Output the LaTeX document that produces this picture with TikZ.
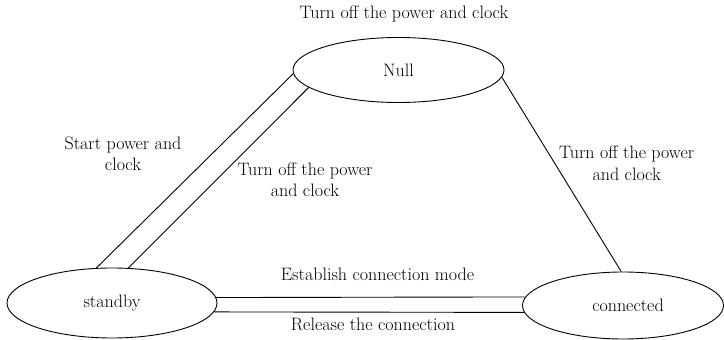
\documentclass[tikz,border=0pt]{standalone}
\usetikzlibrary{shapes.geometric}
\begin{document}
\begin{tikzpicture}[x=1pt,y=1pt,
  state/.style={ellipse, draw, line width=0.9pt, inner sep=0pt,
    font=\fontsize{18}{21.5}\selectfont},
  lbl/.style={align=center, inner sep=0pt,
    font=\fontsize{18}{21.5}\selectfont},
  link/.style={line width=0.9pt}]
\useasboundingbox (0,0) rectangle (724,340);

% states
\node[state, minimum width=211pt, minimum height=65pt]   (null)    at (398.5,270) {Null};
\node[state, minimum width=210pt, minimum height=70pt]   (standby) at (112,37)    {standby};
\node[state, minimum width=201pt, minimum height=67pt]   (conn)    at (623,34.5)  {\hspace{10pt}connected};

% transitions
\draw[link] (null.182.75) -- (standby.114.8);
\draw[link] (null.191.6)  -- (standby.65.2);
\draw[link] (null.-4.47)  -- (conn.93.4);
\draw[link] (standby.3.32)  -- (conn.175.0);
\draw[link] (standby.-5.68) -- (conn.184.38);

% transition labels
\node[lbl, anchor=base] (lself) at (404,321) {Turn off the power and clock};
\node[lbl] (lstart) at (123,186.3) {Start power and\\clock};
\node[lbl] (loffl)  at (305,160)   {Turn off the power\\and clock};
\node[lbl] (loffr)  at (626.7,176.6) {Turn off the power\\and clock};
\node[lbl, anchor=base] (lest) at (377.5,59) {Establish connection mode};
\node[lbl, anchor=base] (lrel) at (373,9)    {Release the connection};
\end{tikzpicture}
\end{document}
